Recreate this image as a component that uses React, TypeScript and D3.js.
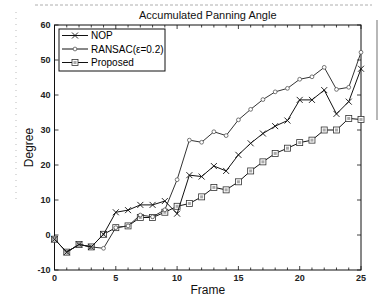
import React, { useEffect, useRef } from 'react';
import * as d3 from 'd3';

// frame index (x axis)
const frames = [0, 1, 2, 3, 4, 5, 6, 7, 8, 9, 10, 11, 12, 13, 14, 15, 16, 17, 18, 19, 20, 21, 22, 23, 24, 25];

// accumulated panning angle (degree) per frame
const nop = [-1.2, -4.9, -2.7, -3.4, 0.2, 6.5, 7.1, 8.6, 8.6, 9.7, 6.1, 17.1, 16.7, 19.7, 18.3, 22.9, 26.2, 29.0, 31.1, 32.7, 38.6, 38.6, 41.4, 34.6, 38.1, 47.5];
const ransac = [-1.2, -4.9, -2.7, -3.4, -3.8, 2.1, 2.6, 5.7, 5.2, 7.2, 15.8, 27.1, 26.5, 29.5, 28.4, 32.9, 35.9, 38.7, 40.9, 41.9, 44.5, 45.2, 47.9, 41.6, 42.2, 52.2];
const proposed = [-1.2, -4.9, -2.7, -3.4, 0.2, 2.1, 2.6, 5.0, 5.0, 6.5, 8.2, 9.0, 10.9, 13.6, 12.9, 15.2, 18.3, 20.9, 23.3, 24.8, 26.4, 27.1, 30.0, 30.0, 33.3, 33.0];

const seriesNames = ['NOP', 'RANSAC(\u03b5=0.2)', 'Proposed'];
const markerTypes = ['x', 'circle', 'square'];

const xTicks = [0, 5, 10, 15, 20, 25];
const yTicks = [-10, 0, 10, 20, 30, 40, 50, 60];

const FONT = 'Liberation Sans, Arial, sans-serif';

const App = () => {
  const svgRef = useRef<SVGSVGElement>(null);

  useEffect(() => {
    const svg = d3.select(svgRef.current);
    svg.selectAll('*').remove();

    const left = 54.5;
    const right = 361;
    const top = 25;
    const bottom = 270;

    const x = d3.scaleLinear().domain([0, 25]).range([left, right]);
    const y = d3.scaleLinear().domain([-10, 60]).range([bottom, top]);

    // scan artefacts around the figure
    svg.append('line').attr('x1', 35).attr('x2', 372).attr('y1', 5).attr('y2', 5)
      .attr('stroke', '#999').attr('stroke-width', 0.8).attr('stroke-dasharray', '3,2');
    svg.append('line').attr('x1', 16).attr('x2', 16).attr('y1', 12).attr('y2', 200)
      .attr('stroke', '#aaa').attr('stroke-width', 0.8).attr('stroke-dasharray', '1,5');
    svg.append('line').attr('x1', 377).attr('x2', 377).attr('y1', 20).attr('y2', 120)
      .attr('stroke', '#888').attr('stroke-width', 1.2);

    // title
    svg.append('text').attr('x', (left + right) / 2).attr('y', 19)
      .attr('text-anchor', 'middle').attr('font-family', FONT).attr('font-size', 11)
      .attr('fill', '#111').text('Accumulated Panning Angle');

    // axes box
    svg.append('rect').attr('x', left).attr('y', top).attr('width', right - left).attr('height', bottom - top)
      .attr('fill', 'none').attr('stroke', '#111').attr('stroke-width', 1);

    const g = svg.append('g').attr('stroke', '#111').attr('stroke-width', 0.8);

    // minor x ticks (every frame) top and bottom
    frames.forEach((f) => {
      const major = xTicks.includes(f);
      const len = major ? 4 : 2.5;
      g.append('line').attr('x1', x(f)).attr('x2', x(f)).attr('y1', bottom).attr('y2', bottom - len);
      g.append('line').attr('x1', x(f)).attr('x2', x(f)).attr('y1', top).attr('y2', top + len);
    });
    // y ticks left and right
    yTicks.forEach((v) => {
      g.append('line').attr('x1', left).attr('x2', left + 4).attr('y1', y(v)).attr('y2', y(v));
      g.append('line').attr('x1', right).attr('x2', right - 4).attr('y1', y(v)).attr('y2', y(v));
    });

    // tick labels
    svg.append('g').selectAll('text').data(xTicks).enter().append('text')
      .attr('x', (d) => x(d)).attr('y', bottom + 11)
      .attr('text-anchor', 'middle').attr('font-family', FONT).attr('font-size', 9)
      .attr('font-weight', 'bold').attr('fill', '#222').text((d) => d);
    svg.append('g').selectAll('text').data(yTicks).enter().append('text')
      .attr('x', left - 4).attr('y', (d) => y(d) + 3)
      .attr('text-anchor', 'end').attr('font-family', FONT).attr('font-size', 9)
      .attr('font-weight', 'bold').attr('fill', '#222').text((d) => d);

    // axis labels
    svg.append('text').attr('x', (left + right) / 2).attr('y', 294)
      .attr('text-anchor', 'middle').attr('font-family', FONT).attr('font-size', 12)
      .attr('fill', '#111').text('Frame');
    svg.append('text')
      .attr('transform', `translate(33,${(top + bottom) / 2}) rotate(-90)`)
      .attr('text-anchor', 'middle').attr('font-family', FONT).attr('font-size', 12)
      .attr('fill', '#111').text('Degree');

    const drawMarker = (sel, type, cx, cy) => {
      if (type === 'x') {
        sel.append('path')
          .attr('d', `M${cx - 3},${cy - 3}L${cx + 3},${cy + 3}M${cx - 3},${cy + 3}L${cx + 3},${cy - 3}`)
          .attr('stroke', '#111').attr('stroke-width', 0.9).attr('fill', 'none');
      } else if (type === 'circle') {
        sel.append('circle').attr('cx', cx).attr('cy', cy).attr('r', 1.9)
          .attr('fill', '#fff').attr('stroke', '#555').attr('stroke-width', 0.8);
      } else {
        sel.append('rect').attr('x', cx - 3).attr('y', cy - 3).attr('width', 6).attr('height', 6)
          .attr('fill', '#fff').attr('stroke', '#333').attr('stroke-width', 0.8);
        sel.append('rect').attr('x', cx - 1.5).attr('y', cy - 1.5).attr('width', 3).attr('height', 3)
          .attr('fill', '#aaa');
      }
    };

    const line = d3.line<number>().x((d, i) => x(frames[i])).y((d) => y(d));
    const allSeries = [nop, ransac, proposed];

    // draw in order so that proposed sits on top like the original
    [proposed, ransac, nop].forEach((s) => {
      const idx = allSeries.indexOf(s);
      const sg = svg.append('g');
      sg.append('path').attr('d', line(s)).attr('fill', 'none')
        .attr('stroke', idx === 1 ? '#333' : '#111').attr('stroke-width', 1);
      s.forEach((v, i) => drawMarker(sg, markerTypes[idx], x(frames[i]), y(v)));
    });

    // legend
    const lg = svg.append('g');
    lg.append('rect').attr('x', 59).attr('y', 29).attr('width', 106).attr('height', 42)
      .attr('fill', '#fff').attr('stroke', '#111').attr('stroke-width', 1);
    const rowY = [35.5, 49, 62.5];
    seriesNames.forEach((name, i) => {
      lg.append('line').attr('x1', 62).attr('x2', 88).attr('y1', rowY[i]).attr('y2', rowY[i])
        .attr('stroke', '#111').attr('stroke-width', 1);
      drawMarker(lg, markerTypes[i], 75, rowY[i]);
      lg.append('text').attr('x', 91).attr('y', rowY[i] + 3.5)
        .attr('font-family', FONT).attr('font-size', 10)
        .attr('fill', '#000').text(name);
    });
  }, []);

  return (
    <svg ref={svgRef} width={380} height={297}
      style={{ position: 'absolute', left: 0, top: 0, background: '#fff' }} />
  );
};

export default App;
